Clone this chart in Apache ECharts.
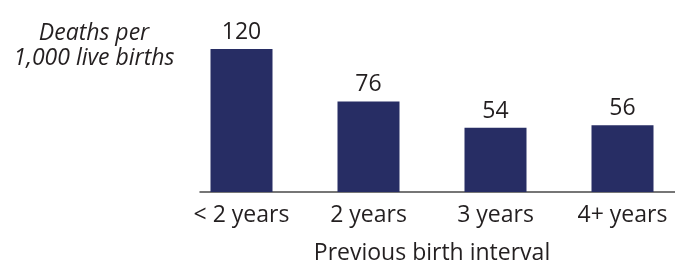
<!DOCTYPE html>
<html>
<head>
<meta charset="utf-8">
<script src="https://cdn.jsdelivr.net/npm/echarts@6/dist/echarts.min.js"></script>
<style>
  html, body { margin: 0; padding: 0; background: #fff; }
</style>
</head>
<body>
<div id="chart" style="width:675px;height:262px"></div>
<script>
  // data
  var categories = ['< 2 years', '2 years', '3 years', '4+ years'];
  var deaths = [120, 76, 54, 56];

  var textColor = '#231f20';
  var barColor = '#272d64';
  var fontFamily = '"Open Sans", "Noto Sans", sans-serif';

  var myChart = echarts.init(document.getElementById('chart'));
  var option = {
    backgroundColor: '#fff',
    animation: false,
    graphic: [{
      type: 'text',
      style: {
        text: 'Deaths per\n1,000 live births',
        x: 94,
        y: 21,
        align: 'center',
        verticalAlign: 'top',
        fill: textColor,
        font: 'italic 23px ' + fontFamily,
        lineHeight: 25
      }
    }],
    grid: [
      // bars
      { left: 178, width: 508, top: 49, bottom: 70, outerBoundsMode: 'none' },
      // just the baseline
      { left: 200, right: 0, top: 49, bottom: 70, outerBoundsMode: 'none' }
    ],
    xAxis: [{
      type: 'category',
      gridIndex: 0,
      data: categories,
      axisLine: { show: false },
      axisTick: { show: false },
      axisLabel: {
        interval: 0,
        color: textColor,
        fontSize: 23,
        fontFamily: fontFamily,
        margin: 12
      },
      name: 'Previous birth interval',
      nameLocation: 'middle',
      nameGap: 50,
      nameTextStyle: {
        color: textColor,
        fontSize: 23,
        fontFamily: fontFamily
      }
    }, {
      type: 'value',
      gridIndex: 1,
      min: 0,
      max: 1,
      axisLine: { show: true, lineStyle: { color: '#4a4a4a', width: 1.5 } },
      axisTick: { show: false },
      axisLabel: { show: false },
      splitLine: { show: false }
    }],
    yAxis: [{
      type: 'value',
      gridIndex: 0,
      min: 0,
      max: 120,
      show: false
    }, {
      type: 'value',
      gridIndex: 1,
      min: 0,
      max: 1,
      show: false
    }],
    series: [{
      type: 'bar',
      xAxisIndex: 0,
      yAxisIndex: 0,
      data: deaths,
      barWidth: 62,
      itemStyle: { color: barColor },
      label: {
        show: true,
        position: 'top',
        distance: 5,
        color: textColor,
        fontSize: 23,
        fontFamily: fontFamily
      }
    }]
  };
  myChart.setOption(option);
  window.addEventListener('resize', function () { myChart.resize(); });
</script>
</body>
</html>
